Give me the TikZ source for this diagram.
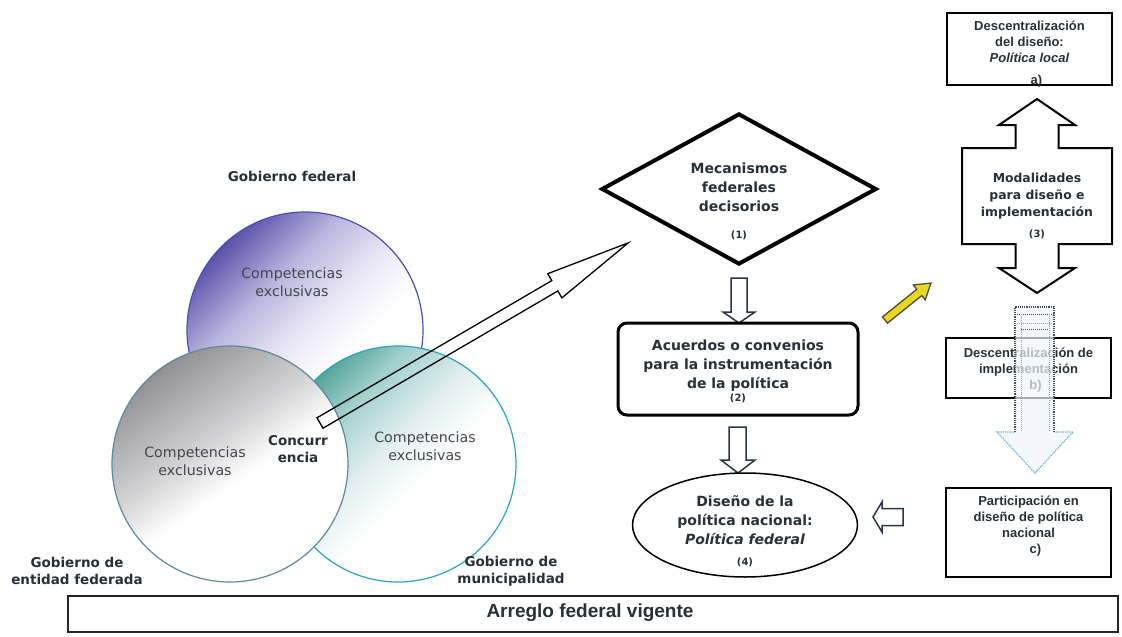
\documentclass[tikz,border=0pt]{standalone}
\usepackage{fontspec}
\setmainfont{DejaVu Sans}
\newfontfamily\arialf{Liberation Sans}
\usetikzlibrary{shapes.geometric}
\newcommand\numsz{\fontsize{10}{12}\selectfont}
\definecolor{txt}{RGB}{42,48,56}
\definecolor{txtl}{RGB}{70,72,78}
\definecolor{fedDark}{RGB}{78,66,162}
\definecolor{fedMid}{RGB}{185,180,222}
\definecolor{fedLight}{RGB}{234,232,246}
\definecolor{fedEdge}{RGB}{70,80,185}
\definecolor{entDark}{RGB}{135,135,138}
\definecolor{entMid}{RGB}{208,208,210}
\definecolor{entEdge}{RGB}{95,135,160}
\definecolor{munDark}{RGB}{45,140,130}
\definecolor{munMid}{RGB}{160,208,204}
\definecolor{munLight}{RGB}{226,238,240}
\definecolor{munEdge}{RGB}{40,165,190}
\definecolor{arrEdge}{RGB}{40,55,70}
\definecolor{yel}{RGB}{232,216,30}
\definecolor{dotfill}{RGB}{240,246,252}
\definecolor{dotedge}{RGB}{60,80,100}
\definecolor{dotlight}{RGB}{110,175,215}
\pgfdeclareverticalshading{fedsh}{100bp}{color(0bp)=(white); color(40bp)=(white); color(50bp)=(fedLight); color(62bp)=(fedMid); color(77bp)=(fedDark); color(100bp)=(fedDark)}
\pgfdeclareverticalshading{entsh}{100bp}{color(0bp)=(white); color(46bp)=(white); color(57bp)=(entMid); color(78bp)=(entDark); color(100bp)=(entDark)}
\pgfdeclareverticalshading{munsh}{100bp}{color(0bp)=(white); color(44bp)=(white); color(54bp)=(munLight); color(66bp)=(munMid); color(80bp)=(munDark); color(100bp)=(munDark)}
\tikzset{
  venn/.style={circle, minimum size=236pt, inner sep=0pt, line width=1.2pt},
  lbl/.style={font=\bfseries\fontsize{13.5}{17}\selectfont, text=txt, align=center, inner sep=0pt},
  comp/.style={font=\fontsize{14.2}{18}\selectfont, text=txtl, align=center, inner sep=0pt},
  boxtxt/.style={font=\bfseries\fontsize{14}{19}\selectfont, text=txt, align=center, inner sep=0pt},
  smalltxt/.style={font=\arialf\bfseries\fontsize{13}{16}\selectfont, text=txt, align=center, inner sep=0pt},
  rbox/.style={draw=black, line width=1.3pt, minimum width=165pt, inner sep=0pt},
  hollow/.style={draw=arrEdge, line width=1.5pt, fill=white, line join=miter},
}
\begin{document}
\begin{tikzpicture}[x=1pt,y=-1pt]
\useasboundingbox (0,0) rectangle (1122,637);
\fill[white] (0,0) rectangle (1122,637);

% Venn circles
\node[venn, draw=fedEdge, shading=fedsh, shading angle=45] (fed) at (305,330) {};
\node[venn, draw=munEdge, shading=munsh, shading angle=45] (mun) at (398,464) {};
\node[venn, draw=entEdge, shading=entsh, shading angle=35] (ent) at (230,464) {};

\node[lbl] (gfed) at (292,176) {Gobierno federal};
\node[comp] (cfed) at (292,282) {Competencias\\exclusivas};
\node[comp] (cent) at (195,461) {Competencias\\exclusivas};
\node[comp] (cmun) at (425,446) {Competencias\\exclusivas};
\node[lbl] (conc) at (298,449) {Concurr\\encia};
\node[lbl] (gent) at (77,571) {Gobierno de\\entidad federada};
\node[lbl] (gmun) at (511,571) {Gobierno de\\municipalidad};

% big hollow arrow from concurrence to the decision mechanisms
\coordinate (bigtail) at (320,423);
\begin{scope}[shift={(bigtail)}, rotate=30.3]
  \draw[draw=black, line width=1.3pt, line join=miter] (0,-6) -- (272,-6) -- (272,-14) -- (357,0) -- (272,14) -- (272,6) -- (0,6) -- cycle;
\end{scope}

% (1) diamond
\node[diamond, aspect=1.82, minimum width=275pt, minimum height=151pt, inner sep=0pt, draw=black, line width=4pt, fill=white] (d1) at (739,189) {};
\node[boxtxt] (d1t) at (739,201) {Mecanismos\\federales\\decisorios\\[8pt]{\numsz (1)}};

% arrow (1)->(2)
\draw[hollow] (731,278) -- (747,278) -- (747,312) -- (755,312) -- (739,323) -- (723,312) -- (731,312) -- cycle;

% (2) rounded box
\node[draw=black, line width=3pt, rounded corners=9pt, minimum width=240pt, minimum height=92pt, inner sep=0pt] (b2) at (738,369) {};
\node[boxtxt] (b2t) at (738,371) {Acuerdos o convenios\\para la instrumentación\\de la política\\[-6pt]{\numsz (2)}};

% arrow (2)->(4)
\draw[hollow] (729,427) -- (746,427) -- (746,460) -- (755,460) -- (738,473) -- (721,460) -- (729,460) -- cycle;

% (4) ellipse
\node[ellipse, draw=black, line width=1.5pt, minimum width=225pt, minimum height=104pt, inner sep=0pt] (e4) at (745,525) {};
\node[boxtxt] (e4t) at (745,531) {Diseño de la\\política nacional:\\\textit{Política federal}\\[2pt]{\numsz (4)}};

% arrow c) -> (4)
\draw[hollow] (903,508.5) -- (882,508.5) -- (882,502) -- (873,517) -- (882,532) -- (882,525.5) -- (903,525.5) -- cycle;

% yellow arrow
\coordinate (ytail) at (885,320);
\begin{scope}[shift={(ytail)}, rotate=38.8]
  \draw[draw=black!80!yellow, line width=1.3pt, fill=yel, line join=miter] (0,-4) -- (44,-4) -- (44,-9.5) -- (59,0) -- (44,9.5) -- (44,4) -- (0,4) -- cycle;
\end{scope}

% right column
\node[rbox, minimum height=72pt] (ba) at (1029.5,49) {};
\node[smalltxt] (bat) at (1029.5,54) {Descentralización\\del diseño:\\\textit{Política local}\\[6pt]\hspace*{14pt}a)};

% (3) double arrow box
\draw[draw=black, line width=2pt, fill=white, line join=miter]
  (1037,99) -- (1075,125) -- (1058.5,125) -- (1058.5,148) -- (1112,148) -- (1112,244)
  -- (1058.5,244) -- (1058.5,268) -- (1075,268) -- (1037,293) -- (999,268) -- (1015.5,268)
  -- (1015.5,244) -- (962,244) -- (962,148) -- (1015.5,148) -- (1015.5,125) -- (999,125) -- cycle;
\node[font=\bfseries\fontsize{12.4}{17}\selectfont, text=txt, align=center, inner sep=0pt] (m3) at (1037,206) {Modalidades\\para diseño e\\implementación\\[4pt]{\numsz (3)}};

\node[rbox, minimum height=60pt] (bb) at (1028.5,368) {};
\node[smalltxt] (bbt) at (1028.5,370) {Descentralización de\\implementación\\\hspace*{14pt}b)};

% dotted arrow over b)
\fill[dotfill, fill opacity=0.7]
  (1015,307) -- (1054,307) -- (1054,432) -- (1073,432) -- (1035,473) -- (997,432) -- (1015,432) -- cycle;
\draw[densely dotted, draw=dotlight, line width=1.2pt] (1054,432) -- (1073,432) -- (1035,473) -- (997,432) -- (1015,432);
\draw[densely dotted, draw=dotedge, line width=1.2pt] (1015,432) -- (1015,307) -- (1054,307) -- (1054,432);
\draw[densely dotted, draw=dotedge, line width=1pt] (1015,314) -- (1054,314) (1021,329) -- (1049,329);
\draw[densely dotted, draw=dotlight, line width=1pt] (1021,314) -- (1021,432) (1049,314) -- (1049,432) (1015,323) -- (1054,323);

\node[rbox, minimum height=89pt] (bc) at (1028.5,532.5) {};
\node[smalltxt] (bct) at (1028.5,526) {Participación en\\diseño de política\\nacional\\\hspace*{14pt}c)};

% bottom bar
\node[draw=black!85, line width=1.3pt, minimum width=1050pt, minimum height=36pt, inner sep=0pt] (bar) at (593,614) {};
\node[font=\arialf\bfseries\fontsize{19}{22}\selectfont, text=txt, inner sep=0pt] (bart) at (590,613) {Arreglo federal vigente};
\end{tikzpicture}
\end{document}
